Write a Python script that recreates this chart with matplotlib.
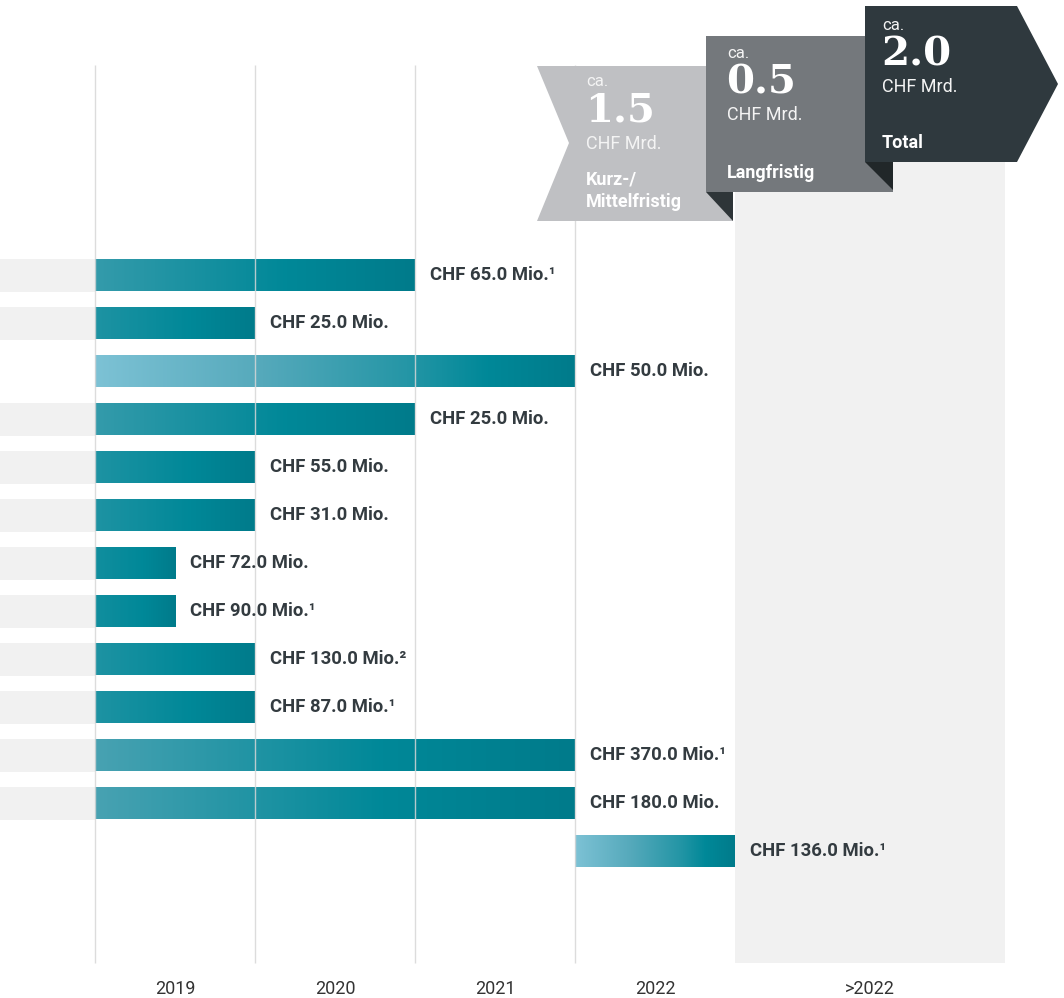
import numpy as np
from matplotlib import pyplot as plt
from matplotlib.colors import LinearSegmentedColormap, to_rgb
from matplotlib.patches import Polygon, Rectangle

# data: bar start / end in years (0 = start of 2019, 4 = start of >2022)
starts = [0, 0, 0, 0, 0, 0, 0, 0, 0, 0, 0, 0, 3]
ends = [2, 1, 3, 2, 1, 1, 0.5, 0.5, 1, 1, 3, 3, 4]
labels = [
    "CHF 65.0 Mio.¹", "CHF 25.0 Mio.", "CHF 50.0 Mio.", "CHF 25.0 Mio.",
    "CHF 55.0 Mio.", "CHF 31.0 Mio.", "CHF 72.0 Mio.", "CHF 90.0 Mio.¹",
    "CHF 130.0 Mio.²", "CHF 87.0 Mio.¹", "CHF 370.0 Mio.¹", "CHF 180.0 Mio.",
    "CHF 136.0 Mio.¹",
]
light_rows = [2, 12]
stub_rows = [0, 1, 3, 4, 5, 6, 7, 8, 9, 10, 11]
years = ["2019", "2020", "2021", "2022", ">2022"]
year_centers = [0.5, 1.5, 2.5, 3.5, 4.84]

head_values = ["1.5", "0.5", "2.0"]
head_names = ["Kurz-/\nMittelfristig", "Langfristig", "Total"]

# layout: 160 px per year, 48 px per row
W, H = 1064, 998
X0, XS = 95, 160
Y0, YS = 275, 48


def px_x(p):
    return (p - X0) / XS


def px_y(p):
    return (p - Y0) / YS


fig = plt.figure(figsize=(W / 100, H / 100), dpi=100)
ax = fig.add_axes([0, 0, 1, 1])
ax.set_xlim(px_x(0), px_x(W))
ax.set_ylim(px_y(H), px_y(0))
ax.axis("off")

bar_h = 33 / YS
teal = "#008898"
teal_dark = "#007b8b"

# grey background for >2022
ax.add_patch(Rectangle((4, px_y(160)), px_x(1005) - 4, px_y(963) - px_y(160),
                       facecolor="#f1f1f1", edgecolor="none", zorder=0))

# grey stubs on the left
ax.barh(stub_rows, [0 - px_x(0)] * len(stub_rows), left=px_x(0), height=bar_h,
        color="#f1f1f1", zorder=1)

rows = np.arange(len(starts))
widths = np.array(ends) - np.array(starts)
bars = ax.barh(rows, widths, left=starts, height=bar_h, color="none", zorder=2)

grad = np.linspace(0, 1, 256).reshape(1, -1)
for i, patch in enumerate(bars):
    if i in light_rows:
        cmap = LinearSegmentedColormap.from_list(
            "l", [(0, "#7dc2d5"), (0.35, "#55a9bb"), (0.65, "#2596a6"), (0.82, teal), (1, teal_dark)])
    else:
        t = (widths[i] / 3) ** 0.8
        c0 = np.array(to_rgb(teal)) * (1 - t) + np.array(to_rgb("#48a2b2")) * t
        cmap = LinearSegmentedColormap.from_list("n", [(0, c0), (0.6, teal), (1, teal_dark)])
    im = ax.imshow(grad, cmap=cmap, aspect="auto", interpolation="bilinear",
                   extent=(starts[i], ends[i], i + bar_h / 2, i - bar_h / 2), zorder=2)
    im.set_clip_path(patch)
    ax.text(ends[i] + 15 / XS, i, labels[i], va="center", ha="left", fontsize=13.3,
            fontweight="bold", color="#333b40", family="Roboto", zorder=5)

ax.set_xlim(px_x(0), px_x(W))
ax.set_ylim(px_y(H), px_y(0))

# vertical grid lines
ax.vlines([0, 1, 2, 3], px_y(65), px_y(963), color="#d6d6d6", linewidth=1, zorder=3, alpha=0.85)

for c, y in zip(year_centers, years):
    ax.text(c, px_y(989), y, ha="center", va="center", fontsize=13, color="#333333", family="Roboto")

# header flags
def poly(pts, color, z):
    ax.add_patch(Polygon([(px_x(a), px_y(b)) for a, b in pts], closed=True,
                         facecolor=color, edgecolor="none", zorder=z))


poly([(537, 66), (733, 66), (733, 221), (537, 221), (569, 143)], "#bfc0c3", 6)
poly([(706, 36), (893, 36), (893, 192), (706, 192)], "#74787c", 7)
poly([(706, 192), (733, 192), (733, 221)], "#2e3538", 7)
poly([(865, 6), (1017, 6), (1058, 84), (1017, 162), (865, 162)], "#2f393e", 8)
poly([(865, 162), (893, 162), (893, 190)], "#212729", 8)

head_x = [586, 727, 882]
head_top = [82, 53, 25]
name_y = [191, 173, 143]
for hx, ht, val, name, ny in zip(head_x, head_top, head_values, head_names, name_y):
    x = px_x(hx)
    ax.text(x, px_y(ht), "ca.", ha="left", va="center", fontsize=12, color="#f4f4f4",
            family="Roboto", zorder=10)
    ax.text(x - 1 / XS, px_y(ht + 29), val, ha="left", va="center", fontsize=29, color="white",
            family="DejaVu Serif", fontweight="bold", zorder=10)
    ax.text(x, px_y(ht + 62), "CHF Mrd.", ha="left", va="center", fontsize=13, color="#f4f4f4",
            family="Roboto", zorder=10)
    ax.text(x, px_y(ny), name, ha="left", va="center", fontsize=13, color="white",
            family="Roboto", fontweight="bold", linespacing=1.3, zorder=10)

fig.savefig("out.png", dpi=100)
